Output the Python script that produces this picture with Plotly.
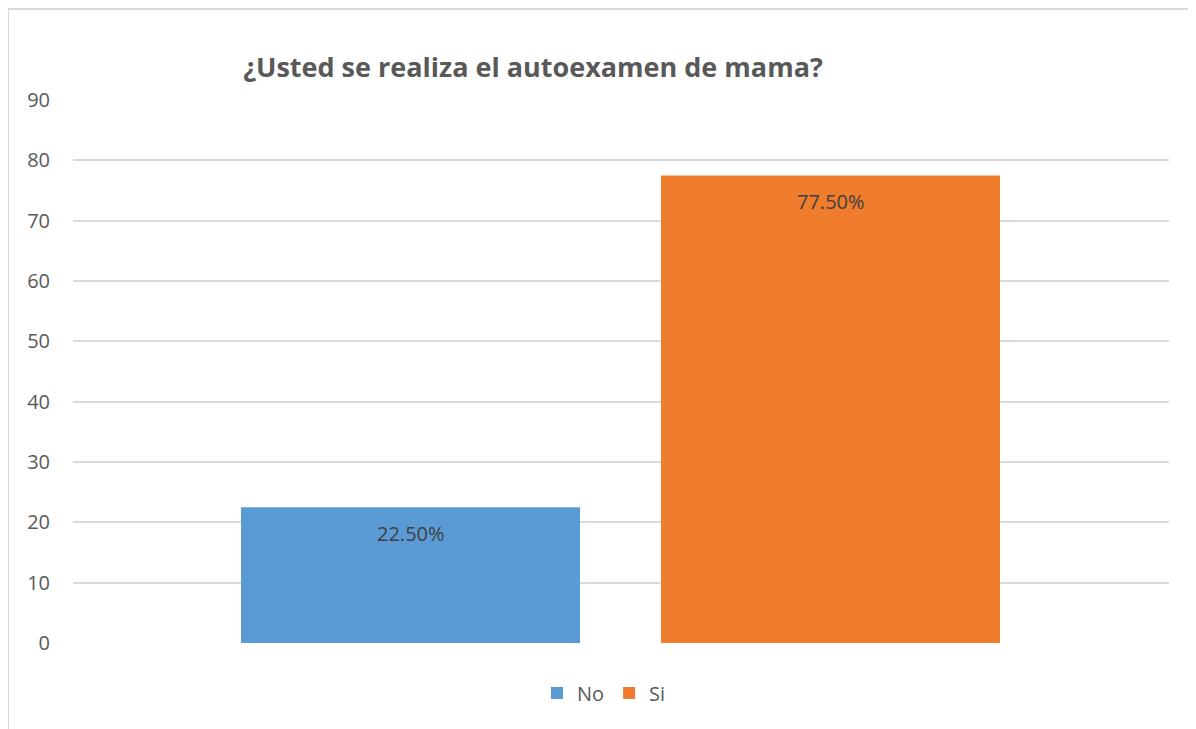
import plotly.graph_objects as go

TITLE = "¿Usted se realiza el autoexamen de mama?"
SERIES = ["No", "Si"]
VALUES = [22.5, 77.5]
LABELS = ["22.50%", "77.50%"]
Y_TICKS = [0, 10, 20, 30, 40, 50, 60, 70, 80, 90]

COLORS = {
    "No": "#5B9BD5",
    "Si": "#F07D2E",
    "ink": "#595959",
    "label": "#404040",
    "grid": "#D9D9D9",
}

FONT = "Open Sans, Liberation Sans, sans-serif"

# page body has an 8px margin, so the figure starts at (8, 8)
W, H = 1188, 721
L, T, R, B = 65, 92, 27, 86
PW, PH = W - L - R, H - T - B

BAR_W = 0.3093
offsets = {"No": -0.3467, "Si": 0.0365}

fig = go.Figure()
for name, value, label in zip(SERIES, VALUES, LABELS):
    fig.add_trace(
        go.Bar(
            x=[""],
            y=[value],
            name=name,
            width=BAR_W,
            offset=offsets[name],
            marker={"color": COLORS[name], "line": {"width": 0}},
            hoverinfo="name+y",
        )
    )
    # data label, placed a little below the bar top like Excel does
    fig.add_annotation(
        x=0.5 + offsets[name] + BAR_W / 2,
        xref="paper",
        xanchor="center",
        y=value,
        yref="y",
        yanchor="top",
        yshift=-11,
        text=label,
        showarrow=False,
        font={"family": FONT, "size": 20, "color": COLORS["label"]},
    )

fig.update_layout(
    width=W,
    height=H,
    paper_bgcolor="white",
    plot_bgcolor="white",
    margin={"l": L, "r": R, "t": T, "b": B},
    barmode="overlay",
    font={"family": FONT, "color": COLORS["ink"]},
    title={
        "text": "<b>" + TITLE + "</b>",
        "x": 525 / W,
        "xanchor": "center",
        "y": 1 - 60 / H,
        "yanchor": "middle",
        "font": {"family": FONT, "size": 27, "color": COLORS["ink"]},
    },
    legend={
        "orientation": "h",
        "xanchor": "center",
        "x": (596 - L) / PW,
        "yanchor": "middle",
        "y": -(685 - (H - B)) / PH,
        "font": {"family": FONT, "size": 20, "color": COLORS["ink"]},
        "tracegroupgap": 0,
    },
    showlegend=True,
)
fig.update_xaxes(showgrid=False, showticklabels=False, range=[-0.5, 0.5], showline=False, zeroline=False)
fig.update_yaxes(
    range=[0, 90],
    tickvals=Y_TICKS,
    showgrid=True,
    gridcolor=COLORS["grid"],
    gridwidth=1.5,
    zeroline=False,
    showline=False,
    ticklabelstandoff=22,
    tickfont={"family": FONT, "size": 20, "color": COLORS["ink"]},
)
# chart frame
fig.add_shape(
    type="rect",
    xref="paper",
    yref="paper",
    x0=(0 - L) / PW,
    x1=1.1,
    y0=-0.3,
    y1=1 + (T - 1) / PH,
    line={"color": "#D9D9D9", "width": 2},
    fillcolor="rgba(0,0,0,0)",
    layer="below",
)

fig.write_html("out.html")
